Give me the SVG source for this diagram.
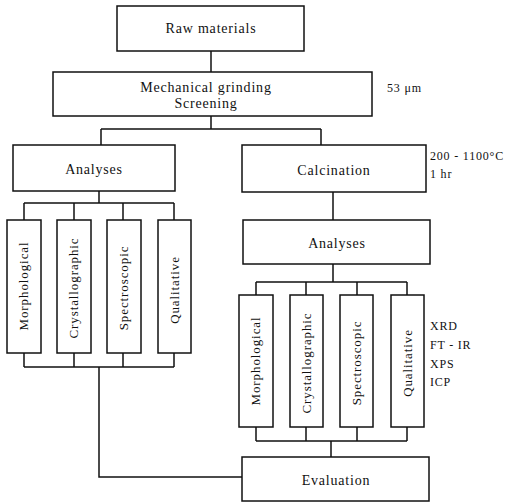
<svg xmlns="http://www.w3.org/2000/svg" width="519" height="502" viewBox="0 0 519 502">
<style>
.b{fill:#fff;stroke:#111;stroke-width:1.5}
.c{fill:none;stroke:#111;stroke-width:1.5}
text{font-family:"Liberation Serif","Times New Roman",serif;font-size:14px;fill:#111;letter-spacing:0.8px}
.m{text-anchor:middle}
.v{font-size:13px;letter-spacing:0.9px}
.s{font-size:12px}
</style>
<rect width="519" height="502" fill="#fff"/>
<g id="connectors">
<path class="c" d="M211 51V72"/>
<path class="c" d="M211 116V129M101 129H321M101 129V145M321 129V145"/>
<path class="c" d="M99 191V203M24 203H174M24 203V220M74 203V220M123 203V220M174 203V220"/>
<path class="c" d="M24 353V367M74 353V367M123 353V367M174 353V367M24 367H174M99 367V477H242"/>
<path class="c" d="M333 192V220"/>
<path class="c" d="M333 264V282M256 282H407M256 282V295M306 282V295M357 282V295M407 282V295"/>
<path class="c" d="M256 427V441M306 427V441M357 427V441M407 427V441M256 441H407M331 441V457"/>
</g>
<g id="raw"><rect class="b" x="117" y="6" width="187" height="45"/><text class="m" x="211" y="33">Raw materials</text></g>
<g id="grinding"><rect class="b" x="53" y="72" width="319" height="44"/><text class="m" x="206" y="92">Mechanical grinding</text><text class="m" x="206" y="108">Screening</text></g>
<g id="note1"><text class="s" x="387" y="92">53 μm</text></g>
<g id="analyses1"><rect class="b" x="13" y="145" width="162" height="46"/><text class="m" x="94" y="174">Analyses</text></g>
<g id="calcination"><rect class="b" x="242" y="145" width="184" height="47"/><text class="m" x="334" y="175">Calcination</text></g>
<g id="note2"><text class="s" x="430" y="160">200 - 1100°C</text><text class="s" x="430" y="178">1 hr</text></g>
<g id="l-morph"><rect class="b" x="7" y="220" width="34" height="133"/><text class="m v" transform="translate(28 286) rotate(-90)">Morphological</text></g>
<g id="l-cryst"><rect class="b" x="57" y="220" width="34" height="133"/><text class="m v" transform="translate(78 288) rotate(-90)">Crystallographic</text></g>
<g id="l-spec"><rect class="b" x="107" y="220" width="34" height="133"/><text class="m v" transform="translate(128 288) rotate(-90)">Spectroscopic</text></g>
<g id="l-qual"><rect class="b" x="158" y="220" width="33" height="133"/><text class="m v" transform="translate(179 290) rotate(-90)">Qualitative</text></g>
<g id="analyses2"><rect class="b" x="243" y="220" width="187" height="44"/><text class="m" x="337" y="248">Analyses</text></g>
<g id="r-morph"><rect class="b" x="239" y="295" width="34" height="132"/><text class="m v" transform="translate(260 361) rotate(-90)">Morphological</text></g>
<g id="r-cryst"><rect class="b" x="290" y="295" width="33" height="132"/><text class="m v" transform="translate(311 363) rotate(-90)">Crystallographic</text></g>
<g id="r-spec"><rect class="b" x="340" y="295" width="33" height="132"/><text class="m v" transform="translate(361 363) rotate(-90)">Spectroscopic</text></g>
<g id="r-qual"><rect class="b" x="391" y="295" width="33" height="132"/><text class="m v" transform="translate(412 363) rotate(-90)">Qualitative</text></g>
<g id="note3"><text class="s" x="430" y="330">XRD</text><text class="s" x="430" y="349">FT - IR</text><text class="s" x="430" y="368">XPS</text><text class="s" x="430" y="386">ICP</text></g>
<g id="evaluation"><rect class="b" x="242" y="457" width="187" height="44"/><text class="m" x="336" y="485">Evaluation</text></g>
</svg>
